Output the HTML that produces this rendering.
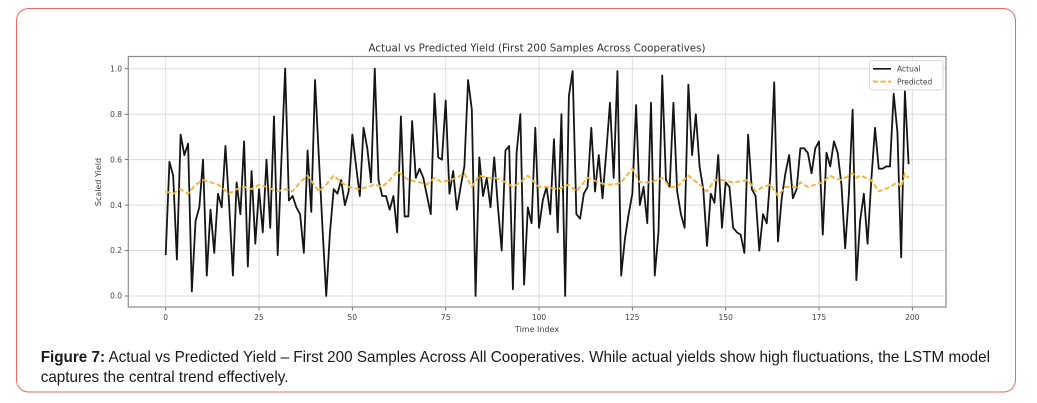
<!DOCTYPE html>
<html><head><meta charset="utf-8"><style>
html,body{margin:0;padding:0;background:#fff;}
body{width:1037px;height:403px;overflow:hidden;position:relative;}
svg{position:absolute;left:0;top:0;}
.cap{position:absolute;left:40.7px;top:348px;font-family:"Liberation Sans",Arial,sans-serif;font-size:15.25px;line-height:19.5px;color:#1a1a1a;white-space:nowrap;}
</style></head><body>
<svg width="1037" height="403" viewBox="0 0 1037 403" xmlns="http://www.w3.org/2000/svg">
<rect x="16.5" y="8.5" width="999" height="383.5" rx="12" ry="12" fill="#fff" stroke="#ec6a62" stroke-width="1"/>
<g stroke="#dcdcdc" stroke-width="1">
<line x1="165.7" y1="56.5" x2="165.7" y2="307"/>
<line x1="259.0" y1="56.5" x2="259.0" y2="307"/>
<line x1="352.3" y1="56.5" x2="352.3" y2="307"/>
<line x1="445.7" y1="56.5" x2="445.7" y2="307"/>
<line x1="539.0" y1="56.5" x2="539.0" y2="307"/>
<line x1="632.3" y1="56.5" x2="632.3" y2="307"/>
<line x1="725.7" y1="56.5" x2="725.7" y2="307"/>
<line x1="819.0" y1="56.5" x2="819.0" y2="307"/>
<line x1="912.3" y1="56.5" x2="912.3" y2="307"/>
<line x1="128.3" y1="296" x2="946" y2="296"/>
<line x1="128.3" y1="250.5" x2="946" y2="250.5"/>
<line x1="128.3" y1="205.1" x2="946" y2="205.1"/>
<line x1="128.3" y1="159.6" x2="946" y2="159.6"/>
<line x1="128.3" y1="114.2" x2="946" y2="114.2"/>
<line x1="128.3" y1="68.7" x2="946" y2="68.7"/>
</g>
<g stroke="#555" stroke-width="0.8">
<line x1="124.8" y1="296" x2="128.3" y2="296"/>
<line x1="124.8" y1="250.5" x2="128.3" y2="250.5"/>
<line x1="124.8" y1="205.1" x2="128.3" y2="205.1"/>
<line x1="124.8" y1="159.6" x2="128.3" y2="159.6"/>
<line x1="124.8" y1="114.2" x2="128.3" y2="114.2"/>
<line x1="124.8" y1="68.7" x2="128.3" y2="68.7"/>
<line x1="165.7" y1="307" x2="165.7" y2="310.5"/>
<line x1="259.0" y1="307" x2="259.0" y2="310.5"/>
<line x1="352.3" y1="307" x2="352.3" y2="310.5"/>
<line x1="445.7" y1="307" x2="445.7" y2="310.5"/>
<line x1="539.0" y1="307" x2="539.0" y2="310.5"/>
<line x1="632.3" y1="307" x2="632.3" y2="310.5"/>
<line x1="725.7" y1="307" x2="725.7" y2="310.5"/>
<line x1="819.0" y1="307" x2="819.0" y2="310.5"/>
<line x1="912.3" y1="307" x2="912.3" y2="310.5"/>
</g>
<g font-family="DejaVu Sans, Liberation Sans, sans-serif" font-size="7.5" fill="#444">
<text x="122" y="298.7" text-anchor="end">0.0</text>
<text x="122" y="253.2" text-anchor="end">0.2</text>
<text x="122" y="207.8" text-anchor="end">0.4</text>
<text x="122" y="162.3" text-anchor="end">0.6</text>
<text x="122" y="116.9" text-anchor="end">0.8</text>
<text x="122" y="71.4" text-anchor="end">1.0</text>
<g text-anchor="middle">
<text x="165.7" y="320">0</text>
<text x="259.0" y="320">25</text>
<text x="352.3" y="320">50</text>
<text x="445.7" y="320">75</text>
<text x="539.0" y="320">100</text>
<text x="632.3" y="320">125</text>
<text x="725.7" y="320">150</text>
<text x="819.0" y="320">175</text>
<text x="912.3" y="320">200</text>
</g>
<text x="537" y="332" text-anchor="middle" font-size="8">Time Index</text>
<text x="0" y="0" text-anchor="middle" font-size="8" transform="translate(101,182) rotate(-90)">Scaled Yield</text>
</g>
<text x="537" y="51.5" text-anchor="middle" font-family="DejaVu Sans, Liberation Sans, sans-serif" font-size="10.5" fill="#333" textLength="337" lengthAdjust="spacingAndGlyphs">Actual vs Predicted Yield (First 200 Samples Across Cooperatives)</text>
<g transform="translate(165.7,296) scale(3.7333,-227.3)">
<polyline fill="none" stroke="#151515" stroke-width="1.8" stroke-linejoin="round" vector-effect="non-scaling-stroke" points="0,0.18 1,0.59 2,0.53 3,0.16 4,0.71 5,0.62 6,0.67 7,0.02 8,0.33 9,0.39 10,0.60 11,0.09 12,0.38 13,0.19 14,0.45 15,0.39 16,0.66 17,0.40 18,0.09 19,0.50 20,0.36 21,0.68 22,0.13 23,0.55 24,0.23 25,0.47 26,0.28 27,0.60 28,0.30 29,0.79 30,0.18 31,0.60 32,1.00 33,0.42 34,0.44 35,0.39 36,0.36 37,0.19 38,0.64 39,0.37 40,0.95 41,0.62 42,0.30 43,0.00 44,0.28 45,0.47 46,0.45 47,0.51 48,0.40 49,0.46 50,0.71 51,0.57 52,0.44 53,0.74 54,0.65 55,0.50 56,1.00 57,0.51 58,0.44 59,0.44 60,0.38 61,0.44 62,0.28 63,0.79 64,0.35 65,0.35 66,0.77 67,0.52 68,0.56 69,0.52 70,0.44 71,0.36 72,0.89 73,0.61 74,0.60 75,0.86 76,0.45 77,0.55 78,0.38 79,0.48 80,0.57 81,0.95 82,0.82 83,0.00 84,0.61 85,0.44 86,0.52 87,0.39 88,0.61 89,0.39 90,0.20 91,0.64 92,0.66 93,0.03 94,0.63 95,0.80 96,0.05 97,0.39 98,0.32 99,0.74 100,0.30 101,0.42 102,0.48 103,0.36 104,0.69 105,0.28 106,0.80 107,0.00 108,0.88 109,0.99 110,0.36 111,0.34 112,0.45 113,0.48 114,0.74 115,0.46 116,0.62 117,0.43 118,0.63 119,0.85 120,0.52 121,0.99 122,0.09 123,0.25 124,0.36 125,0.45 126,0.84 127,0.40 128,0.48 129,0.32 130,0.85 131,0.09 132,0.28 133,0.97 134,0.51 135,0.48 136,0.85 137,0.46 138,0.36 139,0.30 140,0.93 141,0.62 142,0.80 143,0.57 144,0.47 145,0.22 146,0.45 147,0.41 148,0.62 149,0.30 150,0.50 151,0.48 152,0.30 153,0.28 154,0.27 155,0.19 156,0.71 157,0.47 158,0.44 159,0.20 160,0.36 161,0.32 162,0.54 163,0.94 164,0.24 165,0.43 166,0.54 167,0.62 168,0.43 169,0.47 170,0.65 171,0.65 172,0.63 173,0.54 174,0.65 175,0.68 176,0.27 177,0.63 178,0.57 179,0.68 180,0.63 181,0.49 182,0.21 183,0.45 184,0.82 185,0.07 186,0.33 187,0.45 188,0.23 189,0.51 190,0.74 191,0.56 192,0.56 193,0.57 194,0.57 195,0.89 196,0.72 197,0.17 198,0.90 199,0.58"/>
</g>
<polyline fill="none" stroke="#f4b43a" stroke-width="1.9" stroke-dasharray="5,2.5" stroke-linejoin="round" points="165.7,191.4 173.2,193.7 180.6,189.2 188.1,193.7 195.6,184.6 203.0,180.1 210.5,182.35 218.0,184.6 229.2,193.7 236.6,189.2 244.1,186.9 251.6,189.2 259.0,184.6 266.5,186.9 277.7,191.4 285.2,189.2 292.6,191.4 300.1,182.35 307.6,175.5 318.8,191.4 326.2,184.6 333.7,175.5 341.2,182.35 348.6,186.9 359.8,189.2 367.3,186.9 374.8,184.6 382.2,186.9 389.7,180.1 397.2,171.0 408.4,180.1 419.6,182.35 427.0,184.6 434.5,177.8 442.0,182.35 449.4,180.1 456.9,177.8 464.4,173.3 471.8,186.9 479.3,175.5 486.8,177.8 494.2,177.8 501.7,180.1 512.9,186.9 520.4,182.35 527.8,175.5 539.0,186.9 546.5,186.9 557.7,189.2 568.9,184.6 576.4,191.4 587.6,177.8 598.8,182.35 606.2,184.6 613.7,184.6 621.2,182.35 632.4,168.7 639.8,182.35 651.0,182.35 662.2,177.8 669.7,186.9 677.2,186.9 688.4,175.5 699.6,184.6 707.0,191.4 714.5,180.1 722.0,180.1 733.2,182.35 748.1,180.1 755.6,191.4 763.0,186.9 770.5,184.6 778.0,196.0 785.4,186.9 796.6,186.9 800.4,182.35 807.8,186.9 815.3,184.6 822.8,182.35 830.2,175.5 834.0,177.8 841.4,180.1 852.6,173.3 856.4,177.8 860.1,175.5 871.3,180.1 878.8,191.4 890.0,186.9 897.4,182.35 901.2,186.9 904.9,173.3 908.6,177.8"/>
<rect x="128.3" y="56.5" width="817.7" height="250.5" fill="none" stroke="#8a8a8a" stroke-width="1.2"/>
<rect x="869.5" y="60.5" width="73.5" height="29.5" rx="2" fill="#fff" fill-opacity="0.85" stroke="#d0d0d0" stroke-width="0.8"/>
<line x1="873" y1="68.8" x2="891" y2="68.8" stroke="#151515" stroke-width="1.6"/>
<line x1="873" y1="81.6" x2="891" y2="81.6" stroke="#f4b43a" stroke-width="1.9" stroke-dasharray="5,2.5"/>
<g font-family="DejaVu Sans, Liberation Sans, sans-serif" font-size="7.5" fill="#444">
<text x="897" y="71.5">Actual</text>
<text x="897" y="84.5">Predicted</text>
</g>
</svg>
<div class="cap"><b>Figure 7:</b> Actual vs Predicted Yield – First 200 Samples Across All Cooperatives. While actual yields show high fluctuations, the LSTM model<br>captures the central trend effectively.</div>
</body></html>
